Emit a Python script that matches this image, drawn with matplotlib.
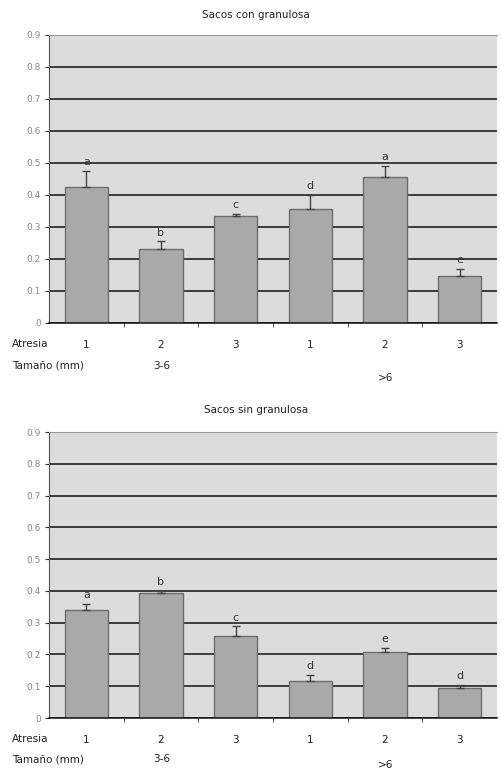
import numpy as np
import matplotlib.pyplot as plt

# Mean values and upper error for each atresia level, grouped by follicle size
atresia = ["1", "2", "3", "1", "2", "3"]
yticks = [0, 0.1, 0.2, 0.3, 0.4, 0.5, 0.6, 0.7, 0.8, 0.9]
ytick_labels = ["0", "0.1", "0.2", "0.3", "0.4", "0.5", "0.6", "0.7", "0.8", "0.9"]

con_mean = [0.425, 0.230, 0.335, 0.355, 0.456, 0.147]
con_err = [0.050, 0.025, 0.005, 0.045, 0.035, 0.022]
con_letters = ["a", "b", "c", "d", "a", "e"]

sin_mean = [0.340, 0.393, 0.258, 0.117, 0.207, 0.094]
sin_err = [0.020, 0.006, 0.030, 0.018, 0.014, 0.010]
sin_letters = ["a", "b", "c", "d", "e", "d"]

bg = "#dcdcdc"
bar_col = "#a9a9a9"
edge_col = "#6e6e6e"
txt_col = "#222222"

fig = plt.figure(figsize=(5.01, 7.73), dpi=100)
plt.rcParams["font.family"] = ["DejaVu Sans"]


def draw_panel(rect, title, means, errs, letters, title_y, row1_y, row2_y, gt6_y):
    ax = fig.add_axes(rect)
    ax.set_facecolor(bg)
    x = np.arange(len(means))
    ax.set_axisbelow(True)
    ax.yaxis.grid(True, color="#111111", linewidth=1.1)
    ax.bar(x, means, width=0.58, color=bar_col, edgecolor=edge_col, linewidth=1.0, zorder=2)
    ax.errorbar(x, means, yerr=[np.zeros(len(errs)), errs], fmt="none",
                ecolor="#444444", elinewidth=1.0, capsize=3, capthick=1.0, zorder=3)
    for xi, m, e, lab in zip(x, means, errs, letters):
        ax.text(xi, m + e + 0.012, lab, ha="center", va="bottom",
                fontsize=8, color="#333333", zorder=4)
    ax.set_xlim(-0.5, len(means) - 0.5)
    ax.set_ylim(0, 0.9)
    ax.set_yticks(yticks)
    ax.set_yticklabels(ytick_labels, fontsize=6.5, color="#888888")
    ax.set_xticks(x)
    ax.set_xticklabels(atresia, fontsize=7.5, color=txt_col)
    ax.tick_params(axis="x", length=0, pad=12)
    ax.set_xticks(np.arange(0.5, len(means) - 0.5, 1.0), minor=True)
    ax.tick_params(axis="x", which="minor", length=3, direction="out", color="#333333")
    ax.tick_params(axis="y", length=3, direction="out", color="#333333", pad=3)
    ax.spines["right"].set_visible(False)
    ax.spines["top"].set_color("#9a9a9a")
    ax.spines["top"].set_linewidth(0.8)
    ax.spines["left"].set_color("#555555")
    ax.spines["left"].set_linewidth(0.8)
    ax.spines["bottom"].set_color("#111111")
    ax.spines["bottom"].set_linewidth(1.1)

    fig.text(256 / 501, 1 - title_y / 773, title, ha="center", va="center",
             fontsize=7.5, color=txt_col)
    fig.text(12 / 501, 1 - row1_y / 773, "Atresia", ha="left", va="center",
             fontsize=7.5, color=txt_col)
    fig.text(12 / 501, 1 - row2_y / 773, "Tamaño (mm)", ha="left", va="center",
             fontsize=7.5, color=txt_col)
    fig.text(162 / 501, 1 - row2_y / 773, "3-6", ha="center", va="center",
             fontsize=7.5, color=txt_col)
    fig.text(386 / 501, 1 - gt6_y / 773, ">6", ha="center", va="center",
             fontsize=7.5, color=txt_col)
    return ax


draw_panel([49 / 501, 1 - 323 / 773, 448 / 501, 288 / 773], "Sacos con granulosa",
           con_mean, con_err, con_letters, 15, 344, 366, 378)
draw_panel([49 / 501, 1 - 718 / 773, 448 / 501, 286 / 773], "Sacos sin granulosa",
           sin_mean, sin_err, sin_letters, 410, 739, 759, 765)

fig.savefig("out.png", dpi=100)
plt.close(fig)
